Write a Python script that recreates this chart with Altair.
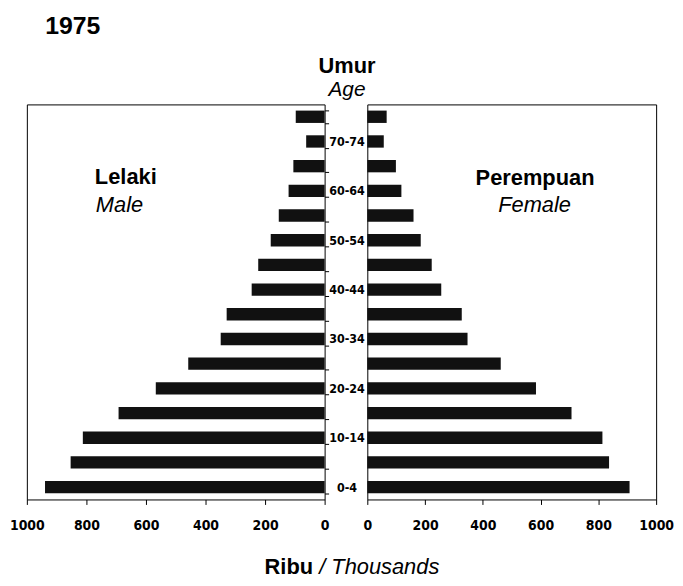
import altair as alt
import pandas as pd

# ---- data (thousands) ----
ages = ["0-4", "5-9", "10-14", "15-19", "20-24", "25-29", "30-34", "35-39",
        "40-44", "45-49", "50-54", "55-59", "60-64", "65-69", "70-74", "75+"]
male = [939, 853, 812, 692, 567, 458, 349, 329, 245, 223, 181, 154, 121, 105, 62, 97]
female = [908, 837, 814, 707, 584, 462, 347, 327, 256, 223, 185, 160, 118, 99, 57, 67]
x_ticks = [0, 200, 400, 600, 800, 1000]
shown_ages = ["0-4", "10-14", "20-24", "30-34", "40-44", "50-54", "60-64", "70-74"]

df = pd.DataFrame({"age": ages, "male": male, "female": female})
order = ages[::-1]

FONT = "Liberation Sans"
NARROW = "DejaVu Sans Condensed, Liberation Sans Narrow, Liberation Sans, sans-serif"
H = 398
WL = 300
WR = 291
BAR = "#111111"


def txt(text, x, y, size, weight="normal", style="normal", align="left", baseline="alphabetic"):
    return alt.Chart(pd.DataFrame({"t": [text]})).mark_text(
        font=FONT, fontSize=size, fontWeight=weight, fontStyle=style,
        align=align, baseline=baseline, color="black"
    ).encode(text="t:N", x=alt.value(x), y=alt.value(y))


label_list = "[" + ",".join("'%s'" % a for a in shown_ages) + "]"

y_scale = alt.Scale(domain=order, paddingInner=0.5, paddingOuter=0.25)

x_axis_common = dict(
    values=x_ticks, format="d", domain=False, grid=False, tickSize=5, tickColor="black",
    labelPadding=14, labelFont=NARROW, labelFontWeight="bold", labelFontSize=14,
    labelColor="black", labelFlush=False, labelOverlap=False, title=None,
)

left_bars = alt.Chart(df).mark_bar(color=BAR).encode(
    x=alt.X("male:Q", scale=alt.Scale(domain=[0, 1000], reverse=True, nice=False),
            axis=alt.Axis(**x_axis_common)),
    y=alt.Y("age:N", sort=order, scale=y_scale, title=None,
            axis=alt.Axis(orient="right", domain=False, tickBand="extent", tickSize=4,
                          tickColor="black",
                          labelExpr="indexof(" + label_list + ", datum.value) >= 0 ? datum.label : ''",
                          labelAlign="center", labelBaseline="middle", labelPadding=18,
                          labelFont=NARROW, labelFontWeight="bold", labelFontSize=12.5,
                          labelColor="black")),
)

left = alt.layer(
    left_bars,
    txt("1975", 18.5, -91, 25, weight="bold", baseline="top"),
    txt("Umur", 322.5, -32, 22, weight="bold", align="center"),
    txt("Age", 322.5, -8, 21, style="italic", align="center"),
    txt("Lelaki", 68.5, 80, 22, weight="bold"),
    txt("Male", 69.5, 108, 22, style="italic"),
    txt("Ribu", 239.5, 473, 22, weight="bold"),
    txt("/ Thousands", 294.5, 473, 22, style="italic"),
).properties(width=WL, height=H)

right_bars = alt.Chart(df).mark_bar(color=BAR).encode(
    x=alt.X("female:Q", scale=alt.Scale(domain=[0, 1000], nice=False),
            axis=alt.Axis(**x_axis_common)),
    y=alt.Y("age:N", sort=order, scale=y_scale, title=None, axis=None),
)

right = alt.layer(
    right_bars,
    txt("Perempuan", 169, 81, 22, weight="bold", align="center"),
    txt("Female", 168.5, 108, 22, style="italic", align="center"),
).properties(width=WR, height=H)

chart = alt.hconcat(left, right, spacing=43, bounds="flush").properties(
    padding={"left": 0, "top": 3, "right": 0, "bottom": 0},
    background="white",
).configure_view(stroke="black", strokeWidth=1)

chart.save("out.html", embed_options={"renderer": "svg", "actions": False})
